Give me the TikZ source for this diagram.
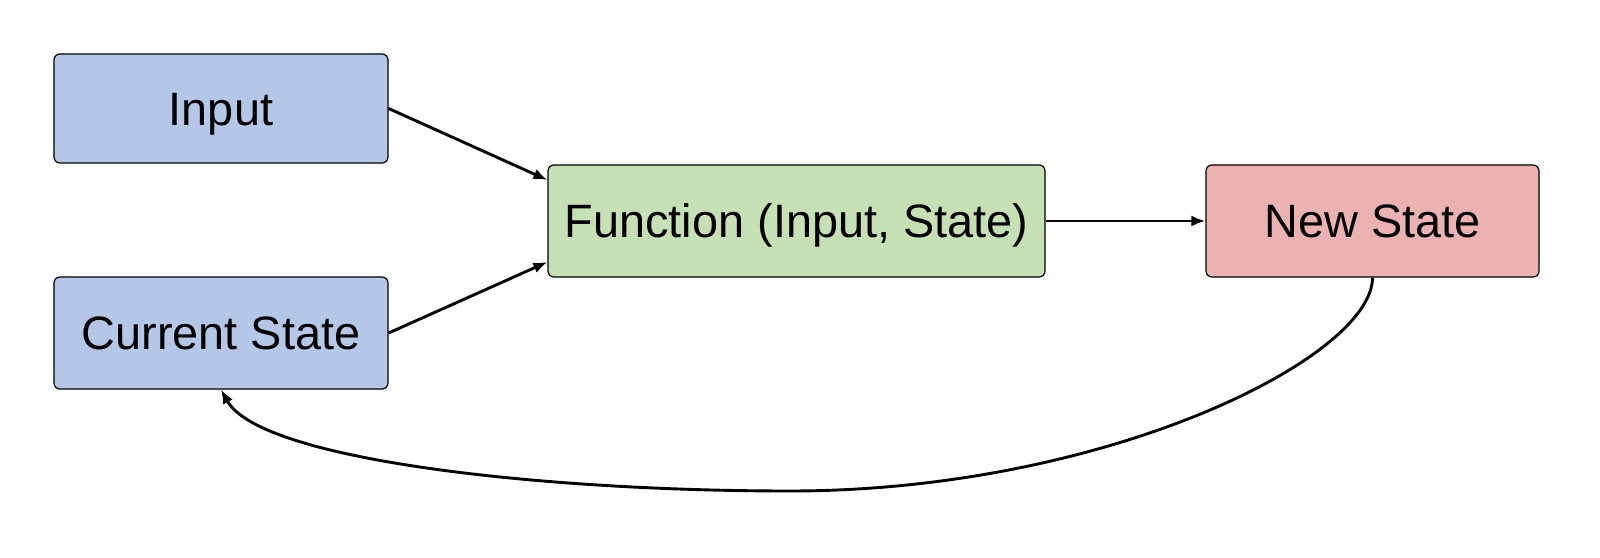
\documentclass[tikz,border=0pt]{standalone}
\usepackage{fontspec}
\setmainfont{Liberation Sans}
\usetikzlibrary{arrows.meta}
\definecolor{boxblue}{HTML}{B4C7E7}
\definecolor{boxgreen}{HTML}{C5E0B4}
\definecolor{boxred}{HTML}{ECB2B2}
\tikzset{
  box/.style={draw=black, line width=1.2bp, rounded corners=6bp, inner sep=0pt,
    font=\fontsize{47}{51}\selectfont, text height=33.5bp, text depth=0bp},
  conn/.style={line width=2.9bp, -{Latex[length=14bp,width=11bp]}}
}
\begin{document}
\begin{tikzpicture}[x=1bp,y=-1bp]
\useasboundingbox (0,0) rectangle (1600,558);
\node[box, fill=boxblue, minimum width=334bp, minimum height=109bp] (in) at (221,108.5) {Input};
\node[box, fill=boxblue, minimum width=334bp, minimum height=112bp] (cur) at (221,333) {Current State};
\node[box, fill=boxgreen, minimum width=497bp, minimum height=112bp] (fn) at (796.5,221) {Function (Input, State)};
\node[box, fill=boxred, minimum width=333bp, minimum height=112bp] (ns) at (1372.5,221) {New State};
\coordinate (low) at (790,491);
\draw[conn] (in.east) -- ([yshift=41bp]fn.west);
\draw[conn] (cur.east) -- ([yshift=-41bp]fn.west);
\draw[conn] (fn.east) -- (ns.west);
\draw[conn] (ns.south) .. controls +(0,80) and (1106,491) .. (low)
  .. controls (540,491) and (260,460) .. (cur.south);
\end{tikzpicture}
\end{document}
